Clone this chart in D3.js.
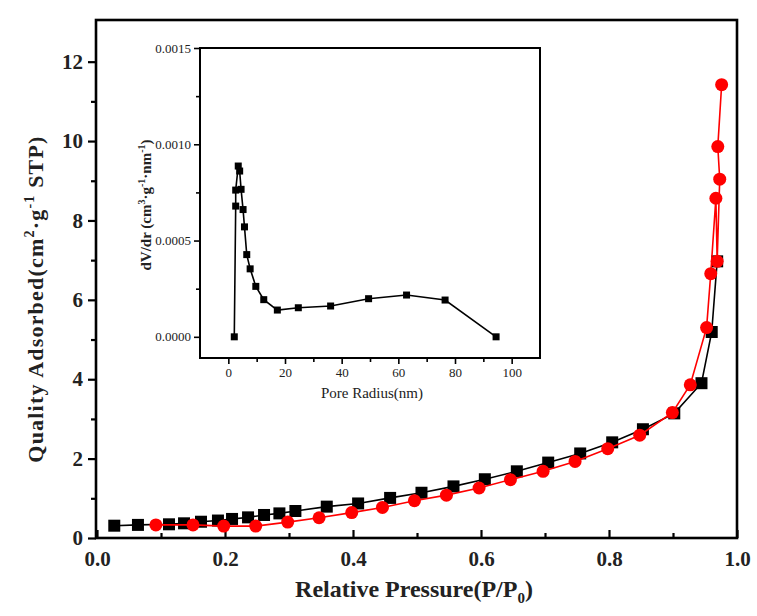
<!DOCTYPE html>
<html>
<head>
<meta charset="utf-8">
<script src="https://cdn.jsdelivr.net/npm/d3@7"></script>
<style>
  html, body { margin: 0; padding: 0; background: #fff; }
  svg { display: block; }
</style>
</head>
<body>
<svg id="chart" width="757" height="616"></svg>
<script>
// ---------- Data ----------
// Main isotherm: adsorption (black squares)
const adsP = [0.027, 0.064, 0.1125, 0.136, 0.1625, 0.189, 0.211, 0.236, 0.261, 0.285, 0.31, 0.359, 0.408, 0.458, 0.507, 0.557, 0.606, 0.656, 0.705, 0.755, 0.805, 0.853, 0.902, 0.9445, 0.9605, 0.969];
const adsQ = [0.31, 0.33, 0.345, 0.37, 0.41, 0.44, 0.48, 0.52, 0.58, 0.62, 0.68, 0.79, 0.87, 1.01, 1.14, 1.30, 1.48, 1.68, 1.90, 2.13, 2.41, 2.74, 3.14, 3.90, 5.19, 6.97];
// Desorption (red circles)
const desP = [0.976, 0.970, 0.973, 0.969, 0.967, 0.959, 0.9525, 0.927, 0.899, 0.848, 0.798, 0.747, 0.697, 0.646, 0.597, 0.546, 0.496, 0.446, 0.398, 0.347, 0.298, 0.248, 0.198, 0.15, 0.092];
const desQ = [11.42, 9.86, 9.04, 6.97, 8.56, 6.66, 5.30, 3.86, 3.16, 2.59, 2.25, 1.93, 1.68, 1.47, 1.26, 1.08, 0.94, 0.77, 0.64, 0.51, 0.40, 0.30, 0.30, 0.33, 0.33];
// Inset: pore size distribution
const poreR  = [2.1, 2.6, 2.6, 3.5, 4.0, 4.5, 5.2, 5.7, 6.5, 7.7, 9.7, 12.5, 17.3, 24.7, 36.1, 49.5, 62.9, 76.5, 94.5];
const poreDV = [0, 0.000679, 0.000762, 0.000887, 0.000861, 0.000766, 0.000661, 0.000571, 0.000427, 0.000353, 0.000262, 0.000193, 0.000139, 0.000151, 0.00016, 0.000198, 0.000217, 0.000191, 0];
// Tick labels
const mainXTicks = [0, 0.2, 0.4, 0.6, 0.8, 1.0];
const mainXMinor = [0.1, 0.3, 0.5, 0.7, 0.9];
const mainYTicks = [0, 2, 4, 6, 8, 10, 12];
const mainYMinor = [1, 3, 5, 7, 9, 11];
const insetXTicks = [0, 20, 40, 60, 80, 100];
const insetXMinor = [10, 30, 50, 70, 90];
const insetYTicks = [0, 0.0005, 0.0010, 0.0015];
const insetYMinor = [0.00025, 0.00075, 0.00125];

// ---------- Layout ----------
const svg = d3.select("#chart");
const M = { left: 96, right: 737, top: 20, bottom: 538 };
const x = d3.scaleLinear().domain([0, 1]).range([M.left + 1, M.right]);
const y = d3.scaleLinear().domain([0, 13.05]).range([M.bottom, M.top]);

const serif = "'Liberation Serif', 'Times New Roman', serif";

// main frame
svg.append("rect")
  .attr("x", M.left).attr("y", M.top)
  .attr("width", M.right - M.left).attr("height", M.bottom - M.top)
  .attr("fill", "none").attr("stroke", "#000").attr("stroke-width", 2.6);

// x axis (ticks inward)
const gx = svg.append("g").attr("transform", `translate(0,${M.bottom})`)
  .call(d3.axisBottom(x).tickValues(mainXTicks).tickFormat(d3.format(".1f"))
        .tickSizeInner(-8).tickSizeOuter(0).tickPadding(13));
svg.append("g").attr("transform", `translate(0,${M.bottom})`)
  .call(d3.axisBottom(x).tickValues(mainXMinor).tickFormat("").tickSizeInner(-5).tickSizeOuter(0));
// y axis (ticks outward)
const gy = svg.append("g").attr("transform", `translate(${M.left},0)`)
  .call(d3.axisLeft(y).tickValues(mainYTicks).tickFormat(d3.format("d"))
        .tickSizeInner(8).tickSizeOuter(0).tickPadding(5));
svg.append("g").attr("transform", `translate(${M.left},0)`)
  .call(d3.axisLeft(y).tickValues(mainYMinor).tickFormat("").tickSizeInner(5).tickSizeOuter(0));

svg.selectAll(".domain").remove();
svg.selectAll(".tick line").attr("stroke", "#000").attr("stroke-width", 2.2);
gx.selectAll("text").attr("font-family", serif).attr("font-weight", "bold").attr("font-size", 21).attr("fill", "#222");
gy.selectAll("text").attr("font-family", serif).attr("font-weight", "bold").attr("font-size", 21).attr("fill", "#222");

// axis titles
const xt = svg.append("text").attr("x", 414).attr("y", 597).attr("text-anchor", "middle")
  .attr("font-family", serif).attr("font-weight", "bold").attr("font-size", 24).attr("fill", "#222");
xt.append("tspan").text("Relative Pressure(P/P");
xt.append("tspan").attr("font-size", 15).attr("dy", 6).text("0");
xt.append("tspan").attr("dy", -6).text(")");

const yt = svg.append("text").attr("transform", "translate(43,299) rotate(-90)").attr("text-anchor", "middle")
  .attr("font-family", serif).attr("font-weight", "bold").attr("font-size", 22)
  .attr("letter-spacing", 1.2).attr("fill", "#222");
yt.append("tspan").text("Quality  Adsorbed(cm");
yt.append("tspan").attr("font-size", 14).attr("dy", -9).text("2");
yt.append("tspan").attr("dy", 9).text("·g");
yt.append("tspan").attr("font-size", 14).attr("dy", -9).text("-1");
yt.append("tspan").attr("dy", 9).text(" STP)");

// series
const ads = adsP.map((p, i) => [p, adsQ[i]]);
const des = desP.map((p, i) => [p, desQ[i]]);
const line = d3.line().x(d => x(d[0])).y(d => y(d[1]));

svg.append("path").datum(ads).attr("d", line).attr("fill", "none").attr("stroke", "#000").attr("stroke-width", 1.6);
svg.append("g").selectAll("rect").data(ads).join("rect")
  .attr("x", d => x(d[0]) - 6).attr("y", d => y(d[1]) - 6)
  .attr("width", 12).attr("height", 12).attr("fill", "#000");

svg.append("path").datum(des).attr("d", line).attr("fill", "none").attr("stroke", "#f00").attr("stroke-width", 1.6);
svg.append("g").selectAll("circle").data(des).join("circle")
  .attr("cx", d => x(d[0])).attr("cy", d => y(d[1])).attr("r", 6.5).attr("fill", "#f00");

// ---------- Inset ----------
const I = { left: 200, right: 540, top: 48, bottom: 358 };
const ix = d3.scaleLinear().domain([-10, 110]).range([I.left, I.right]);
const iy = d3.scaleLinear().domain([-0.00011, 0.0015]).range([I.bottom, I.top]);
const inset = svg.append("g");

inset.append("rect").attr("x", I.left).attr("y", I.top)
  .attr("width", I.right - I.left).attr("height", I.bottom - I.top)
  .attr("fill", "#fff").attr("stroke", "#000").attr("stroke-width", 2);

const igx = inset.append("g").attr("transform", `translate(0,${I.bottom})`)
  .call(d3.axisBottom(ix).tickValues(insetXTicks).tickFormat(d3.format("d")).tickSizeInner(6).tickSizeOuter(0).tickPadding(4));
inset.append("g").attr("transform", `translate(0,${I.bottom})`)
  .call(d3.axisBottom(ix).tickValues(insetXMinor).tickFormat("").tickSizeInner(4).tickSizeOuter(0));
const igy = inset.append("g").attr("transform", `translate(${I.left},0)`)
  .call(d3.axisLeft(iy).tickValues(insetYTicks).tickFormat(d3.format(".4f")).tickSizeInner(6).tickSizeOuter(0).tickPadding(3));
inset.append("g").attr("transform", `translate(${I.left},0)`)
  .call(d3.axisLeft(iy).tickValues(insetYMinor).tickFormat("").tickSizeInner(4).tickSizeOuter(0));
inset.selectAll(".domain").remove();
inset.selectAll(".tick line").attr("stroke", "#000").attr("stroke-width", 1.6);
inset.selectAll(".tick text").attr("font-family", serif).attr("font-size", 13).attr("fill", "#222");

inset.append("text").attr("x", 372).attr("y", 398).attr("text-anchor", "middle")
  .attr("font-family", serif).attr("font-size", 15).attr("fill", "#222").text("Pore Radius(nm)");

const iyt = inset.append("text").attr("transform", "translate(151,205) rotate(-90)").attr("text-anchor", "middle")
  .attr("font-family", serif).attr("font-weight", "bold").attr("font-size", 15).attr("fill", "#222");
iyt.append("tspan").text("dV/dr (cm");
iyt.append("tspan").attr("font-size", 10).attr("dy", -6).text("3");
iyt.append("tspan").attr("dy", 6).text("·g");
iyt.append("tspan").attr("font-size", 10).attr("dy", -6).text("-1");
iyt.append("tspan").attr("dy", 6).text("·nm");
iyt.append("tspan").attr("font-size", 10).attr("dy", -6).text("-1");
iyt.append("tspan").attr("dy", 6).text(")");

const pore = poreR.map((r, i) => [r, poreDV[i]]);
const iline = d3.line().x(d => ix(d[0])).y(d => iy(d[1]));
inset.append("path").datum(pore).attr("d", iline).attr("fill", "none").attr("stroke", "#000").attr("stroke-width", 1.6);
inset.append("g").selectAll("rect").data(pore).join("rect")
  .attr("x", d => ix(d[0]) - 3.5).attr("y", d => iy(d[1]) - 3.5)
  .attr("width", 7).attr("height", 7).attr("fill", "#000");
</script>
</body>
</html>
